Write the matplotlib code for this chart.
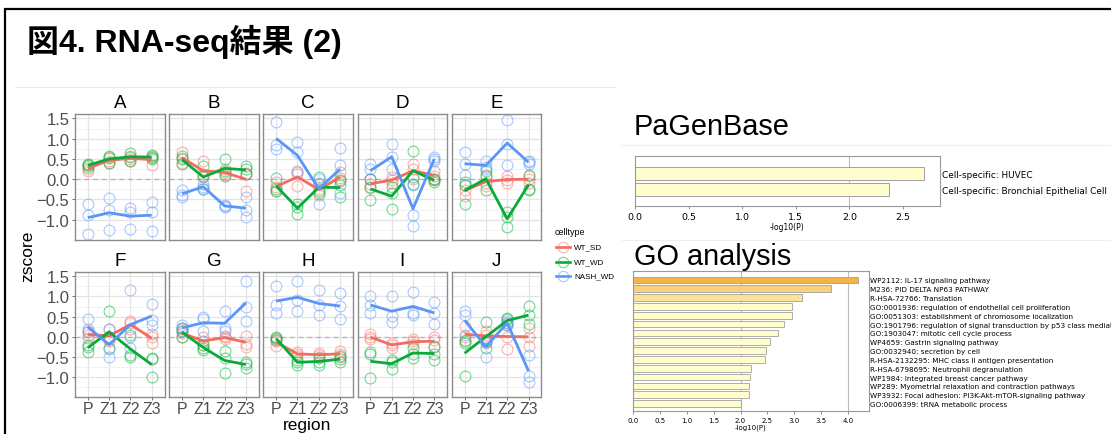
import matplotlib
matplotlib.use('Agg')
import matplotlib.pyplot as plt
from matplotlib.lines import Line2D
from matplotlib.patches import Rectangle
import numpy as np

W, H = 1111, 435

# ---------------- data ----------------
panels = ['A', 'B', 'C', 'D', 'E', 'F', 'G', 'H', 'I', 'J']
regions = ['P', 'Z1', 'Z2', 'Z3']
celltypes = ['WT_SD', 'WT_WD', 'NASH_WD']

# z-scores per panel: 4 regions x 3 replicates
wt_sd = {
    'A': [[0.34, 0.25, 0.20], [0.54, 0.46, 0.40], [0.58, 0.50, 0.46], [0.58, 0.52, 0.35]],
    'B': [[0.68, 0.52, 0.40], [0.45, 0.12, 0.05], [0.25, 0.15, 0.10], [0.15, 0.12, -0.28]],
    'C': [[-0.07, -0.20, -0.28], [0.21, 0.13, -0.17], [-0.12, -0.25, -0.40], [0.18, 0.02, -0.05]],
    'D': [[0.00, -0.12, -0.22], [0.05, -0.03, -0.09], [0.38, 0.25, 0.00], [0.20, 0.08, 0.00]],
    'E': [[-0.15, -0.27, -0.42], [0.10, -0.10, -0.18], [0.08, -0.02, -0.09], [0.09, 0.01, -0.10]],
    'F': [[0.15, 0.05, -0.03], [0.20, -0.05, -0.10], [0.39, 0.34, 0.18], [0.06, -0.02, -0.16]],
    'G': [[0.18, 0.10, -0.02], [0.00, -0.12, -0.20], [0.02, -0.02, -0.07], [0.02, -0.19, -0.25]],
    'H': [[-0.05, -0.12, -0.24], [-0.39, -0.43, -0.47], [-0.40, -0.45, -0.50], [-0.35, -0.43, -0.50]],
    'I': [[0.06, -0.02, -0.07], [-0.15, -0.20, -0.27], [-0.07, -0.12, -0.19], [-0.02, -0.09, -0.23]],
    'J': [[0.26, 0.00, -0.08], [0.14, 0.05, -0.13], [0.34, -0.02, -0.31], [0.22, 0.00, -0.23]],
}
wt_wd = {
    'A': [[0.38, 0.34, 0.30], [0.58, 0.52, 0.40], [0.64, 0.56, 0.46], [0.60, 0.54, 0.50]],
    'B': [[0.58, 0.50, 0.38], [0.33, 0.08, -0.25], [0.50, 0.21, 0.09], [0.32, 0.24, 0.13]],
    'C': [[0.04, -0.25, -0.30], [-0.61, -0.69, -0.85], [0.05, -0.30, -0.35], [-0.02, -0.15, -0.45]],
    'D': [[0.00, -0.20, -0.52], [-0.20, -0.33, -0.73], [0.70, 0.05, -0.12], [0.00, -0.03, -0.06]],
    'E': [[-0.08, -0.15, -0.61], [0.21, 0.09, -0.27], [-0.82, -0.94, -1.18], [0.10, -0.25, -0.27]],
    'F': [[-0.20, -0.25, -0.38], [0.63, 0.00, -0.27], [0.03, -0.45, -0.50], [-0.52, -0.56, -1.01]],
    'G': [[0.22, 0.14, -0.02], [-0.20, -0.27, -0.34], [-0.35, -0.52, -0.91], [-0.62, -0.68, -0.78]],
    'H': [[-0.01, -0.04, -0.09], [-0.58, -0.64, -0.70], [-0.53, -0.62, -0.70], [-0.48, -0.56, -0.64]],
    'I': [[-0.39, -0.42, -1.03], [-0.58, -0.64, -0.80], [-0.27, -0.43, -0.52], [-0.25, -0.43, -0.58]],
    'J': [[-0.10, -0.15, -0.99], [0.37, -0.10, -0.27], [0.47, 0.43, 0.30], [0.76, 0.53, 0.32]],
}
nash_wd = {
    'A': [[-0.61, -0.89, -1.35], [-0.46, -0.77, -1.26], [-0.71, -0.81, -1.22], [-0.57, -0.81, -1.29]],
    'B': [[-0.27, -0.38, -0.43], [-0.12, -0.20, -0.24], [-0.63, -0.66, -0.69], [-0.44, -0.77, -0.94]],
    'C': [[1.42, 0.85, 0.75], [0.91, 0.68, 0.17], [0.00, -0.10, -0.62], [0.76, 0.34, -0.35]],
    'D': [[0.38, 0.25, 0.00], [0.87, 0.54, 0.25], [-0.15, -0.88, -1.16], [0.55, 0.50, 0.45]],
    'E': [[0.67, 0.38, 0.10], [0.46, 0.30, 0.26], [1.47, 0.87, 0.34], [0.45, 0.42, 0.38]],
    'F': [[0.43, 0.18, 0.12], [0.20, -0.30, -0.50], [1.17, 0.00, -0.27], [0.82, 0.42, 0.30]],
    'G': [[0.30, 0.22, 0.14], [0.48, 0.43, 0.13], [0.65, 0.22, 0.13], [1.39, 0.73, 0.40]],
    'H': [[1.27, 0.80, 0.59], [1.39, 0.92, 0.63], [1.17, 0.78, 0.53], [1.08, 0.76, 0.45]],
    'I': [[1.00, 0.78, 0.59], [1.02, 0.51, 0.37], [1.12, 0.59, 0.55], [0.86, 0.59, 0.32]],
    'J': [[0.63, 0.55, 0.05], [-0.10, -0.15, -0.50], [0.39, 0.34, 0.30], [-0.45, -0.99, -1.13]],
}
zdata = {'WT_SD': wt_sd, 'WT_WD': wt_wd, 'NASH_WD': nash_wd}

# labels as visible in the (cropped) reference screenshot
pagen_terms = ['Cell-specific: HUVEC', 'Cell-specific: Bronchial Epithelial Cell']
pagen_vals = [2.70, 2.37]

go_terms = [
    'WP2112: IL-17 signaling pathway',
    'M236: PID DELTA NP63 PATHWAY',
    'R-HSA-72766: Translation',
    'GO:0001936: regulation of endothelial cell proliferation',
    'GO:0051303: establishment of chromosome localization',
    'GO:1901796: regulation of signal transduction by p53 class mediat',
    'GO:1903047: mitotic cell cycle process',
    'WP4659: Gastrin signaling pathway',
    'GO:0032940: secretion by cell',
    'R-HSA-2132295: MHC class II antigen presentation',
    'R-HSA-6798695: Neutrophil degranulation',
    'WP1984: Integrated breast cancer pathway',
    'WP289: Myometrial relaxation and contraction pathways',
    'WP3932: Focal adhesion: PI3K-Akt-mTOR-signaling pathway',
    'GO:0006399: tRNA metabolic process',
]
go_vals = [4.19, 3.68, 3.14, 2.95, 2.95, 2.80, 2.70, 2.55, 2.47, 2.46,
           2.19, 2.18, 2.15, 2.15, 2.01]

# ---------------- style ----------------
plt.rcParams['font.family'] = ['Liberation Sans', 'Noto Sans CJK JP', 'DejaVu Sans']
pt_col = {'WT_SD': '#F8766D', 'WT_WD': '#00BA38', 'NASH_WD': '#619CFF'}
ln_col = {'WT_SD': '#F26C62', 'WT_WD': '#0AAA3A', 'NASH_WD': '#5B95F5'}
go_colors = ['#F5B446', '#F9D07C', '#FCE196'] + ['#FFFDCC'] * 12


def rect(x0, y0, x1, y1):
    return [x0 / W, 1 - y1 / H, (x1 - x0) / W, (y1 - y0) / H]


def fx(x):
    return x / W


def fy(y):
    return 1 - y / H


fig = plt.figure(figsize=(W / 100, H / 100), dpi=100)

# outer frame
fig.add_artist(Rectangle((fx(5), -0.1), 1.5, fy(10) + 0.1, transform=fig.transFigure,
                         fill=False, ec='black', lw=1.6))
# faint screenshot borders
fig.add_artist(Line2D([fx(15), fx(615)], [fy(88), fy(88)], color='#EBEBEB', lw=0.8))
fig.add_artist(Line2D([fx(622), 1], [fy(146), fy(146)], color='#EEEEEE', lw=0.8))
fig.add_artist(Line2D([fx(622), 1], [fy(241), fy(241)], color='#EEEEEE', lw=0.8))

fig.text(fx(27), fy(52), '図4. RNA-seq結果 (2)', fontsize=23, fontweight='bold',
         va='baseline', ha='left')

# ---------------- facet panels ----------------
px0, pw, pitch = 75, 89.5, 94.2
rows = [(115, 240.5), (273, 397.5)]
for i, p in enumerate(panels):
    r, c = divmod(i, 5)
    x0 = px0 + c * pitch
    y0, y1 = rows[r]
    ax = fig.add_axes(rect(x0, y0, x0 + pw, y1))
    ax.set_xlim(0.4, 4.6)
    ax.set_ylim(-1.49, 1.61)
    ax.set_xticks([1, 2, 3, 4])
    ax.set_xticklabels(regions)
    ax.set_yticks([-1.0, -0.5, 0.0, 0.5, 1.0, 1.5])
    ax.set_yticks([-1.25, -0.75, -0.25, 0.25, 0.75, 1.25], minor=True)
    ax.grid(which='major', color='#E4E4E4', lw=0.9)
    ax.grid(which='minor', axis='y', color='#F0F0F0', lw=0.6)
    ax.set_axisbelow(True)
    for s in ax.spines.values():
        s.set_color('#8C8C8C')
        s.set_linewidth(1.0)
    ax.axhline(0, color='#B4B4B4', ls=(0, (4, 3)), lw=0.9, zorder=1.5)
    for ct in celltypes:
        vals = zdata[ct][p]
        for j, reps in enumerate(vals):
            ax.plot([j + 1] * len(reps), reps, ls='none', marker='o', mfc='none',
                    mec=pt_col[ct], alpha=0.55, ms=7.8, mew=0.8, zorder=2)
    for ct in celltypes:
        means = [np.mean(reps) for reps in zdata[ct][p]]
        ax.plot(range(1, 5), means, color=ln_col[ct], lw=2.0, zorder=3,
                solid_capstyle='butt')
    ax.tick_params(axis='both', which='major', length=2.5, width=0.6, color='#555555',
                   labelsize=12, labelcolor='#4D4D4D', pad=1.5)
    ax.tick_params(axis='x', labelsize=11.5, pad=1.0)
    ax.tick_params(which='minor', length=0)
    if c != 0:
        ax.tick_params(axis='y', labelleft=False, length=0)
    if r == 0:
        ax.tick_params(axis='x', labelbottom=False, length=0)
    fig.text(fx(x0 + pw / 2), fy(y0 - 11.5), p, fontsize=13.5, ha='center', va='center')

fig.text(fx(28), fy(256), 'zscore', fontsize=12.5, rotation=90, ha='center', va='center')
fig.text(fx(307), fy(426), 'region', fontsize=12.5, ha='center', va='center')

# legend
fig.text(fx(555), fy(233), 'celltype', fontsize=6.5, ha='left', va='center')
for k, ct in enumerate(celltypes):
    yy = fy(248 + k * 14.5)
    fig.add_artist(Line2D([fx(556), fx(570)], [yy, yy], color=ln_col[ct], lw=1.9))
    fig.add_artist(Line2D([fx(563)], [yy], ls='none', marker='o', mfc='none',
                          mec=pt_col[ct], ms=7.5, mew=0.8, alpha=0.55))
    fig.text(fx(574), yy, ct, fontsize=5.8, ha='left', va='center')

# ---------------- PaGenBase ----------------
fig.text(fx(634), fy(135), 'PaGenBase', fontsize=20.8, va='baseline', ha='left')
axp = fig.add_axes(rect(635, 157, 940, 207))
axp.axvline(2.0, color='#BBBBBB', lw=0.8, zorder=0)
axp.barh([1, 0], pagen_vals, height=0.81, color='#FFFDCC', edgecolor='#A0A0A0', lw=0.7, zorder=2)
axp.set_xlim(0, 2.845)
axp.set_ylim(-1.03, 2.09)
axp.set_xticks([0.0, 0.5, 1.0, 1.5, 2.0, 2.5])
axp.set_xticklabels(['0.0', '0.5', '1.0', '1.5', '2.0', '2.5'])
axp.yaxis.tick_right()
axp.set_yticks([1, 0])
axp.set_yticklabels(pagen_terms)
for lab in axp.get_xticklabels() + axp.get_yticklabels():
    lab.set_family('DejaVu Sans')
axp.tick_params(axis='x', labelsize=6.8, length=2, width=0.5, pad=2, color='#666666')
axp.tick_params(axis='y', labelsize=6.4, length=0, pad=1.5)
for s in axp.spines.values():
    s.set_color('#999999')
    s.set_linewidth(0.8)
axp.set_xlabel('-log10(P)', fontsize=5.5, family='DejaVu Sans', labelpad=1)

# ---------------- GO analysis ----------------
fig.text(fx(634), fy(265), 'GO analysis', fontsize=20.8, va='baseline', ha='left')
axg = fig.add_axes(rect(633, 272, 869, 412))
axg.axvline(2.0, color='#BBBBBB', lw=0.8, zorder=0)
axg.axvline(4.0, color='#BBBBBB', lw=0.8, zorder=0)
ypos = np.arange(len(go_terms))
axg.barh(ypos, go_vals, height=0.76, color=go_colors, edgecolor='#A0A0A0', lw=0.6, zorder=2)
axg.set_xlim(0, 4.39)
axg.set_ylim(14.85, -1.02)
axg.set_xticks(np.arange(0, 4.01, 0.5))
axg.set_xticklabels(['%.1f' % v for v in np.arange(0, 4.01, 0.5)])
axg.yaxis.tick_right()
axg.set_yticks(ypos)
axg.set_yticklabels(go_terms)
for lab in axg.get_xticklabels() + axg.get_yticklabels():
    lab.set_family('DejaVu Sans')
axg.tick_params(axis='x', labelsize=5.0, length=2, width=0.5, pad=2, color='#666666')
axg.tick_params(axis='y', labelsize=5.2, length=0, pad=0.5)
for s in axg.spines.values():
    s.set_color('#999999')
    s.set_linewidth(0.8)
axg.set_xlabel('-log10(P)', fontsize=5.0, family='DejaVu Sans', labelpad=1)

fig.savefig('out.png', dpi=100)
